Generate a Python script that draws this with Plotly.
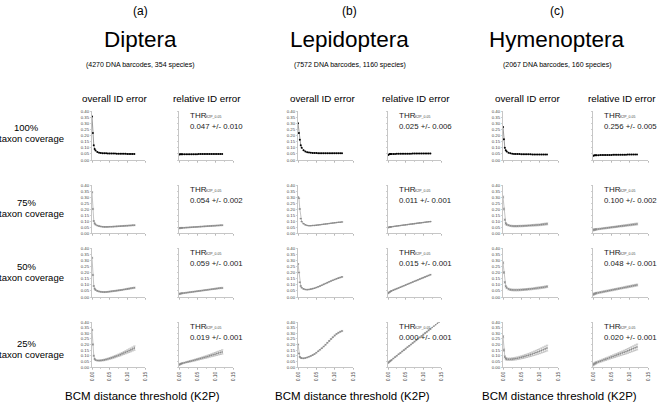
import plotly.graph_objects as go

# ---------------- data ----------------
groups = ["Diptera", "Lepidoptera", "Hymenoptera"]
group_tags = ["(a)", "(b)", "(c)"]
group_subtitles = ["(4270 DNA barcodes, 354 species)",
                   "(7572 DNA barcodes, 1160 species)",
                   "(2067 DNA barcodes, 160 species)"]
coverage_labels = ["100%", "75%", "50%", "25%"]
thr_values = [["0.047 +/- 0.010", "0.054 +/- 0.002", "0.059 +/- 0.001", "0.019 +/- 0.001"],
              ["0.025 +/- 0.006", "0.011 +/- 0.001", "0.015 +/- 0.001", "0.000 +/- 0.001"],
              ["0.256 +/- 0.005", "0.100 +/- 0.002", "0.048 +/- 0.001", "0.020 +/- 0.001"]]
x_ticks = [0.0, 0.05, 0.10, 0.15]
y_ticks = [0.0, 0.05, 0.10, 0.15, 0.20, 0.25, 0.30, 0.35, 0.40]

X = [0.0, 0.0025, 0.005, 0.0075, 0.01, 0.015, 0.02, 0.025, 0.03, 0.035, 0.04, 0.045, 0.05,
     0.055, 0.06, 0.065, 0.07, 0.075, 0.08, 0.085, 0.09, 0.095, 0.1, 0.105, 0.11, 0.115, 0.12]
# the Lepidoptera 25% relative curve continues past the others
X_long = X + [0.125, 0.13, 0.135, 0.14, 0.145, 0.15, 0.155]

# Diptera
D100_overall = [0.355, 0.22, 0.12, 0.09, 0.078, 0.066, 0.06, 0.058, 0.056, 0.055, 0.055, 0.054, 0.054, 0.053, 0.053, 0.053, 0.052, 0.052, 0.052, 0.051, 0.051, 0.051, 0.050, 0.050, 0.050, 0.050, 0.050]
D100_relative = [0.045, 0.046, 0.046, 0.046, 0.046, 0.046, 0.046, 0.047, 0.047, 0.047, 0.047, 0.047, 0.047, 0.048, 0.048, 0.048, 0.048, 0.048, 0.048, 0.048, 0.049, 0.049, 0.049, 0.049, 0.049, 0.049, 0.049]
D75_overall = [0.34, 0.2, 0.1, 0.08, 0.07, 0.062, 0.057, 0.054, 0.052, 0.051, 0.051, 0.051, 0.052, 0.052, 0.053, 0.054, 0.055, 0.056, 0.057, 0.058, 0.059, 0.06, 0.061, 0.062, 0.063, 0.064, 0.065]
D75_relative = [0.04, 0.041, 0.042, 0.043, 0.043, 0.044, 0.045, 0.046, 0.047, 0.048, 0.049, 0.05, 0.051, 0.052, 0.053, 0.054, 0.055, 0.056, 0.057, 0.058, 0.059, 0.06, 0.061, 0.062, 0.063, 0.064, 0.065]
D75_err = [0.005, 0.005, 0.004, 0.004, 0.003, 0.003, 0.003, 0.003, 0.003, 0.003, 0.003, 0.003, 0.003, 0.003, 0.003, 0.003, 0.003, 0.003, 0.003, 0.004, 0.004, 0.004, 0.004, 0.004, 0.004, 0.004, 0.004]
D50_overall = [0.32, 0.18, 0.09, 0.068, 0.058, 0.05, 0.045, 0.042, 0.041, 0.04, 0.041, 0.042, 0.044, 0.046, 0.048, 0.05, 0.052, 0.054, 0.056, 0.058, 0.061, 0.063, 0.066, 0.068, 0.071, 0.073, 0.076]
D50_relative = [0.025, 0.027, 0.028, 0.03, 0.031, 0.033, 0.035, 0.037, 0.039, 0.041, 0.043, 0.045, 0.047, 0.049, 0.051, 0.053, 0.055, 0.057, 0.059, 0.061, 0.063, 0.065, 0.067, 0.069, 0.071, 0.073, 0.074]
D50_err = [0.005, 0.005, 0.004, 0.004, 0.004, 0.004, 0.004, 0.004, 0.004, 0.004, 0.004, 0.004, 0.004, 0.004, 0.004, 0.004, 0.004, 0.004, 0.004, 0.004, 0.004, 0.004, 0.005, 0.005, 0.005, 0.005, 0.005]
D25_overall = [0.33, 0.2, 0.1, 0.072, 0.062, 0.058, 0.057, 0.058, 0.06, 0.063, 0.067, 0.071, 0.076, 0.081, 0.086, 0.092, 0.098, 0.104, 0.11, 0.117, 0.124, 0.131, 0.138, 0.145, 0.152, 0.16, 0.168]
D25_relative = [0.02, 0.024, 0.028, 0.031, 0.034, 0.038, 0.042, 0.046, 0.05, 0.054, 0.058, 0.062, 0.067, 0.071, 0.076, 0.08, 0.085, 0.089, 0.094, 0.099, 0.104, 0.109, 0.114, 0.119, 0.124, 0.129, 0.134]
D25_err = [0.006, 0.006, 0.005, 0.005, 0.005, 0.005, 0.005, 0.006, 0.006, 0.007, 0.007, 0.008, 0.008, 0.009, 0.009, 0.01, 0.01, 0.011, 0.012, 0.012, 0.013, 0.014, 0.015, 0.016, 0.017, 0.018, 0.019]

# Lepidoptera
L100_overall = [0.3, 0.22, 0.165, 0.12, 0.1, 0.08, 0.07, 0.064, 0.061, 0.059, 0.058, 0.057, 0.057, 0.056, 0.056, 0.056, 0.055, 0.055, 0.055, 0.055, 0.055, 0.056, 0.056, 0.056, 0.056, 0.056, 0.056]
L100_relative = [0.04, 0.045, 0.048, 0.049, 0.05, 0.05, 0.05, 0.051, 0.051, 0.051, 0.051, 0.052, 0.052, 0.052, 0.052, 0.052, 0.053, 0.053, 0.053, 0.053, 0.053, 0.053, 0.054, 0.054, 0.054, 0.054, 0.054]
L75_overall = [0.3, 0.29, 0.2, 0.12, 0.095, 0.078, 0.068, 0.063, 0.061, 0.061, 0.062, 0.063, 0.065, 0.067, 0.069, 0.071, 0.073, 0.075, 0.077, 0.079, 0.081, 0.083, 0.085, 0.087, 0.089, 0.09, 0.092]
L75_relative = [0.045, 0.047, 0.049, 0.051, 0.052, 0.054, 0.056, 0.058, 0.06, 0.062, 0.064, 0.066, 0.068, 0.07, 0.072, 0.074, 0.076, 0.078, 0.08, 0.082, 0.084, 0.086, 0.088, 0.09, 0.092, 0.094, 0.095]
L75_err = [0.002, 0.002, 0.002, 0.001, 0.001, 0.001, 0.001, 0.001, 0.001, 0.001, 0.001, 0.001, 0.001, 0.001, 0.001, 0.001, 0.001, 0.001, 0.001, 0.001, 0.001, 0.001, 0.001, 0.001, 0.001, 0.001, 0.001]
L50_overall = [0.27, 0.2, 0.12, 0.09, 0.076, 0.066, 0.061, 0.06, 0.061, 0.064, 0.068, 0.072, 0.077, 0.083, 0.089, 0.096, 0.103, 0.11, 0.117, 0.124, 0.131, 0.137, 0.143, 0.149, 0.154, 0.159, 0.164]
L50_relative = [0.03, 0.036, 0.041, 0.046, 0.05, 0.056, 0.062, 0.068, 0.074, 0.08, 0.086, 0.092, 0.098, 0.104, 0.11, 0.116, 0.122, 0.128, 0.134, 0.14, 0.146, 0.152, 0.158, 0.164, 0.17, 0.176, 0.182]
L50_err = [0.003, 0.003, 0.003, 0.002, 0.002, 0.002, 0.002, 0.002, 0.002, 0.002, 0.002, 0.002, 0.002, 0.002, 0.002, 0.002, 0.002, 0.002, 0.002, 0.002, 0.002, 0.002, 0.002, 0.003, 0.003, 0.003, 0.003]
L25_overall = [0.2, 0.12, 0.09, 0.082, 0.078, 0.077, 0.08, 0.085, 0.091, 0.098, 0.106, 0.115, 0.127, 0.14, 0.153, 0.167, 0.182, 0.198, 0.215, 0.232, 0.249, 0.265, 0.28, 0.293, 0.304, 0.313, 0.32]
L25_relative = [0.036, 0.043, 0.05, 0.056, 0.062, 0.075, 0.088, 0.1, 0.113, 0.125, 0.138, 0.15, 0.163, 0.176, 0.188, 0.2, 0.213, 0.226, 0.238, 0.251, 0.263, 0.276, 0.288, 0.301, 0.313, 0.326, 0.338,
                0.351, 0.363, 0.376, 0.388, 0.401, 0.413, 0.426]
L25_err = [0.004, 0.004, 0.003, 0.003, 0.003, 0.003, 0.003, 0.003, 0.003, 0.003, 0.003, 0.003, 0.003, 0.003, 0.003, 0.003, 0.003, 0.004, 0.004, 0.004, 0.004, 0.004, 0.005, 0.005, 0.005, 0.005, 0.005]

# Hymenoptera
H100_overall = [0.27, 0.17, 0.1, 0.08, 0.07, 0.06, 0.055, 0.052, 0.05, 0.049, 0.048, 0.048, 0.047, 0.047, 0.047, 0.046, 0.046, 0.046, 0.045, 0.045, 0.045, 0.045, 0.044, 0.044, 0.044, 0.044, 0.044]
H100_relative = [0.035, 0.037, 0.038, 0.038, 0.039, 0.039, 0.04, 0.04, 0.04, 0.041, 0.041, 0.041, 0.041, 0.042, 0.042, 0.042, 0.042, 0.043, 0.043, 0.043, 0.043, 0.044, 0.044, 0.044, 0.044, 0.044, 0.045]
H75_overall = [0.3, 0.2, 0.11, 0.08, 0.07, 0.064, 0.06, 0.058, 0.057, 0.057, 0.057, 0.058, 0.058, 0.059, 0.06, 0.061, 0.062, 0.063, 0.064, 0.065, 0.066, 0.067, 0.068, 0.07, 0.072, 0.074, 0.076]
H75_relative = [0.025, 0.027, 0.028, 0.03, 0.031, 0.033, 0.035, 0.037, 0.039, 0.041, 0.043, 0.045, 0.047, 0.049, 0.051, 0.053, 0.055, 0.057, 0.059, 0.061, 0.063, 0.065, 0.067, 0.069, 0.071, 0.073, 0.075]
H75_err = [0.008, 0.008, 0.007, 0.007, 0.007, 0.006, 0.006, 0.006, 0.006, 0.006, 0.006, 0.006, 0.006, 0.006, 0.006, 0.006, 0.006, 0.006, 0.007, 0.007, 0.007, 0.007, 0.007, 0.008, 0.008, 0.008, 0.008]
H50_overall = [0.28, 0.2, 0.12, 0.088, 0.075, 0.065, 0.06, 0.058, 0.057, 0.057, 0.057, 0.058, 0.059, 0.06, 0.061, 0.062, 0.064, 0.065, 0.067, 0.069, 0.071, 0.073, 0.075, 0.077, 0.079, 0.082, 0.085]
H50_relative = [0.02, 0.024, 0.027, 0.03, 0.032, 0.035, 0.038, 0.041, 0.044, 0.047, 0.05, 0.053, 0.056, 0.059, 0.062, 0.065, 0.068, 0.071, 0.074, 0.077, 0.08, 0.083, 0.086, 0.089, 0.092, 0.095, 0.098]
H50_err = [0.008, 0.008, 0.007, 0.007, 0.007, 0.007, 0.007, 0.007, 0.007, 0.007, 0.007, 0.007, 0.007, 0.007, 0.007, 0.007, 0.007, 0.007, 0.007, 0.007, 0.008, 0.008, 0.008, 0.008, 0.008, 0.008, 0.008]
H25_overall = [0.27, 0.15, 0.09, 0.075, 0.07, 0.069, 0.069, 0.07, 0.072, 0.075, 0.078, 0.082, 0.086, 0.09, 0.095, 0.1, 0.105, 0.11, 0.116, 0.122, 0.128, 0.134, 0.14, 0.147, 0.154, 0.161, 0.168]
H25_relative = [0.02, 0.026, 0.031, 0.036, 0.04, 0.046, 0.052, 0.058, 0.064, 0.07, 0.076, 0.082, 0.088, 0.094, 0.1, 0.106, 0.112, 0.118, 0.124, 0.13, 0.136, 0.143, 0.15, 0.157, 0.164, 0.171, 0.178]
H25_err = [0.01, 0.01, 0.01, 0.01, 0.01, 0.01, 0.01, 0.011, 0.011, 0.012, 0.012, 0.013, 0.013, 0.014, 0.015, 0.015, 0.016, 0.017, 0.018, 0.019, 0.02, 0.021, 0.022, 0.023, 0.024, 0.025, 0.026]

overall = [[D100_overall, D75_overall, D50_overall, D25_overall],
           [L100_overall, L75_overall, L50_overall, L25_overall],
           [H100_overall, H75_overall, H50_overall, H25_overall]]
relative = [[D100_relative, D75_relative, D50_relative, D25_relative],
            [L100_relative, L75_relative, L50_relative, L25_relative],
            [H100_relative, H75_relative, H50_relative, H25_relative]]
errors = [[None, D75_err, D50_err, D25_err],
          [None, L75_err, L50_err, L25_err],
          [None, H75_err, H50_err, H25_err]]

# ---------------- layout geometry (pixels) ----------------
W, H = 661, 408
cols_px = [(92, 145), (179, 233), (298, 353), (388, 441), (503, 558), (593, 648)]
rows_px = [(111, 160), (185, 233), (248, 297), (322, 367)]
group_center = [140, 350, 557]
FONT = "Arial, Liberation Sans, sans-serif"

def fx(px):
    return px / W

def fy(py):
    return 1 - py / H

fig = go.Figure()
layout = dict(width=W, height=H,
              margin=dict(l=0, r=0, t=0, b=0, pad=0, autoexpand=False),
              paper_bgcolor="white", plot_bgcolor="white", showlegend=False,
              font=dict(family=FONT, color="black"))
annotations = []

def note(px, py, text, size, xanchor="center", yanchor="middle", color="black"):
    annotations.append(dict(x=fx(px), y=fy(py), xref="paper", yref="paper",
                            xanchor=xanchor, yanchor=yanchor, align="left",
                            showarrow=False, text=text,
                            font=dict(size=size, family=FONT, color=color)))

n = 0
for g in range(3):
    for r in range(4):
        for k in range(2):
            n += 1
            xa = "x" if n == 1 else f"x{n}"
            ya = "y" if n == 1 else f"y{n}"
            c0, c1 = cols_px[2 * g + k]
            r0, r1 = rows_px[r]
            ys = overall[g][r] if k == 0 else relative[g][r]
            xs = X if len(ys) == len(X) else X_long
            err = errors[g][r]
            col = "black" if r == 0 else "#8a8a8a"
            tr = go.Scatter(
                x=xs, y=ys, mode="lines+markers", xaxis=xa, yaxis=ya,
                line=dict(color="#9a9a9a" if r else "#555", width=0.6),
                marker=dict(size=2 if r == 0 else 1.6, color=col),
                hoverinfo="skip")
            if err is not None:
                tr.error_y = dict(type="data", array=err, visible=True,
                                  color="#9a9a9a", thickness=0.5, width=1.2)
            fig.add_trace(tr)
            xkey = "xaxis" if n == 1 else f"xaxis{n}"
            ykey = "yaxis" if n == 1 else f"yaxis{n}"
            bottom = (r == 3)
            layout[xkey] = dict(
                domain=[fx(c0), fx(c1)], anchor=ya, range=[0, 0.15],
                showgrid=False, zeroline=False, showline=True,
                linecolor="#a0a0a0", linewidth=0.6,
                ticks="outside", ticklen=2, tickwidth=0.5, tickcolor="#a0a0a0",
                tickvals=x_ticks, ticktext=[f"{v:.2f}" for v in x_ticks],
                showticklabels=bottom, tickangle=-90,
                tickfont=dict(size=5, color="#444", family=FONT),
                minor=dict(dtick=0.025, ticks="outside", ticklen=1.5,
                           tickcolor="#a0a0a0", tickwidth=0.5),
                fixedrange=True)
            layout[ykey] = dict(
                domain=[fy(r1), fy(r0)], anchor=xa, range=[0, 0.4],
                showgrid=False, zeroline=False, showline=True,
                linecolor="#a0a0a0", linewidth=0.6,
                ticks="outside", ticklen=1.5, tickwidth=0.5, tickcolor="#a0a0a0",
                tickvals=y_ticks, ticktext=[f"{v:.2f}" for v in y_ticks],
                showticklabels=(k == 0),
                tickfont=dict(size=4.3, color="#444", family=FONT),
                fixedrange=True)
            if k == 1:
                note(c0 + 9, r0 + 4, "THR", 8, xanchor="left", color="#222")
                note(c0 + 25, r0 + 6, "K2P_0.05", 3.5, xanchor="left", color="#444")
                note(c0 + 9, r0 + 15, thr_values[g][r], 7.8, xanchor="left", color="#222")

# group headers
for g in range(3):
    cx = group_center[g]
    note(cx, 11, group_tags[g], 12)
    note(cx, 40, groups[g], 22.5)
    note(cx, 65, group_subtitles[g], 7)
    lc = (cols_px[2 * g][0] + cols_px[2 * g][1]) / 2
    rc = (cols_px[2 * g + 1][0] + cols_px[2 * g + 1][1]) / 2
    note(lc - 3, 98, "overall ID error", 9.8)
    note(rc + 1, 98, "relative ID error", 9.8)
    note(cx + 2, 396, "BCM distance threshold (K2P)", 11.5)

# row labels
row_label_y = [127, 202, 266, 343]
for r in range(4):
    note(27, row_label_y[r], coverage_labels[r], 9.5)
    note(31, row_label_y[r] + 11, "taxon coverage", 9.5)

layout["annotations"] = annotations
fig.update_layout(**layout)
fig.write_html("out.html",
               config={"displayModeBar": False, "staticPlot": True},
               post_script="document.body.style.margin='0';document.body.style.overflow='hidden';")
